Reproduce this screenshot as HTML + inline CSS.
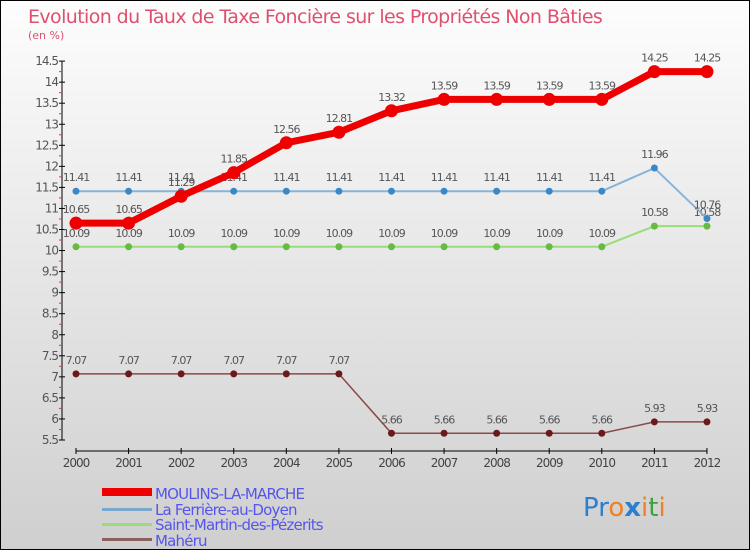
<!DOCTYPE html>
<html><head><meta charset="utf-8"><style>
html,body{margin:0;padding:0;}
body{width:750px;height:550px;overflow:hidden;font-family:"DejaVu Sans","Liberation Sans",sans-serif;}
#wrap{position:relative;width:748px;height:548px;border:1px solid #000;background:linear-gradient(#fdfdfd,#cfcfcf);}
</style></head><body>
<div id="wrap">
<svg id="chart" width="748" height="548" style="position:absolute;left:0;top:0">
<text x="27" y="22" font-size="19" fill="#e0506e" style="font-family:'DejaVu Sans',sans-serif;letter-spacing:-0.6px">Evolution du Taux de Taxe Foncière sur les Propriétés Non Bâties</text>
<text x="27" y="38" font-size="11" fill="#e0506e">(en %)</text>
<g id="axes"></g><g id="series"></g>
<g>
<rect x="101" y="487" width="50" height="8" fill="#e00"/>
<text x="154" y="498" font-size="15" fill="#5555ee" style="letter-spacing:-0.8px">MOULINS-LA-MARCHE</text>
<rect x="101" y="507" width="50" height="3" fill="#7aa7cc"/>
<text x="154" y="514" font-size="15" fill="#5555ee" style="letter-spacing:-0.8px">La Ferrière-au-Doyen</text>
<rect x="101" y="522" width="50" height="3" fill="#99dd77"/>
<text x="154" y="529" font-size="15" fill="#5555ee" style="letter-spacing:-0.8px">Saint-Martin-des-Pézerits</text>
<rect x="101" y="537" width="50" height="3" fill="#8a6060"/>
<text x="154" y="545" font-size="15" fill="#5555ee" style="letter-spacing:-0.8px">Mahéru</text>
</g>
<text x="582" y="515" font-size="26"><tspan fill="#2a7fd0">Pr</tspan><tspan fill="#f08020">o</tspan><tspan fill="#2a7fd0" font-weight="bold">x</tspan><tspan fill="#f08020">i</tspan><tspan fill="#40a040">t</tspan><tspan fill="#f08020">i</tspan></text>
</svg>
</div>
<script>
const years=["2000","2001","2002","2003","2004","2005","2006","2007","2008","2009","2010","2011","2012"];
const moulins=[10.65,10.65,11.29,11.85,12.56,12.81,13.32,13.59,13.59,13.59,13.59,14.25,14.25];
const ferriere=[11.41,11.41,11.41,11.41,11.41,11.41,11.41,11.41,11.41,11.41,11.41,11.96,10.76];
const saintMartin=[10.09,10.09,10.09,10.09,10.09,10.09,10.09,10.09,10.09,10.09,10.09,10.58,10.58];
const maheru=[7.07,7.07,7.07,7.07,7.07,7.07,5.66,5.66,5.66,5.66,5.66,5.93,5.93];
const yTicks=[5.5,6,6.5,7,7.5,8,8.5,9,9.5,10,10.5,11,11.5,12,12.5,13,13.5,14,14.5];
const NS="http://www.w3.org/2000/svg";
const X=i=>75+i*52.58;
const Y=v=>439-(v-5.5)*42.1;
function mk(t,a,p){const e=document.createElementNS(NS,t);for(const k in a)e.setAttribute(k,a[k]);p.appendChild(e);return e;}
const ax=document.getElementById('axes');
const yl=mk('line',{x1:61,y1:Y(14.5),x2:61,y2:Y(5.5),stroke:'#000','stroke-width':1},ax);

yTicks.forEach(v=>{
  mk('line',{x1:58,x2:64,y1:Y(v),y2:Y(v),stroke:'#000'},ax);
  mk('line',{x1:58,x2:61,y1:Y(v+0.25),y2:Y(v+0.25),stroke:v<14.5?'#e33':'none'},ax);
  const t=mk('text',{x:57,y:Y(v)+4,'font-size':12,fill:'#555','text-anchor':'end','letter-spacing':'-1'},ax);
  t.textContent=String(v);
  
});
const xl=mk('line',{x1:75,x2:X(12),y1:450,y2:450,stroke:'#000'},ax);

years.forEach((y,i)=>{
  mk('line',{x1:X(i),x2:X(i),y1:447,y2:453,stroke:'#000'},ax);
  const t=mk('text',{x:X(i),y:466,'font-size':12,fill:'#444','text-anchor':'middle','letter-spacing':'-1'},ax);
  t.textContent=y;
  
});
const sg=document.getElementById('series');
function series(name,data,color,lw,r,dot){
  const g=mk('g',{},sg);
  
  const pl=mk('polyline',{points:data.map((v,i)=>X(i)+','+Y(v)).join(' '),fill:'none',stroke:color,'stroke-width':lw,'stroke-linejoin':'round'},g);
  
  data.forEach((v,i)=>{
    const c=mk('circle',{cx:X(i),cy:Y(v),r:r,fill:dot},g);
    
    const t=mk('text',{x:X(i),y:Y(v)-10,'font-size':11,fill:'#555','text-anchor':'middle','letter-spacing':'-1'},g);
    t.textContent=v.toFixed(2).replace(/0$/,'').replace(/\.$/,'');
    
  });
}
series('maheru',maheru,'#8a4a4a',1.5,3.5,'#6a1a1a');
series('saint-martin',saintMartin,'#99dd77',2,3.5,'#66bb44');
series('ferriere',ferriere,'#88b4d8',2,3.5,'#3a88c8');
series('moulins',moulins,'#ee0000',7,6.5,'#ee0000');
</script>
</body></html>
